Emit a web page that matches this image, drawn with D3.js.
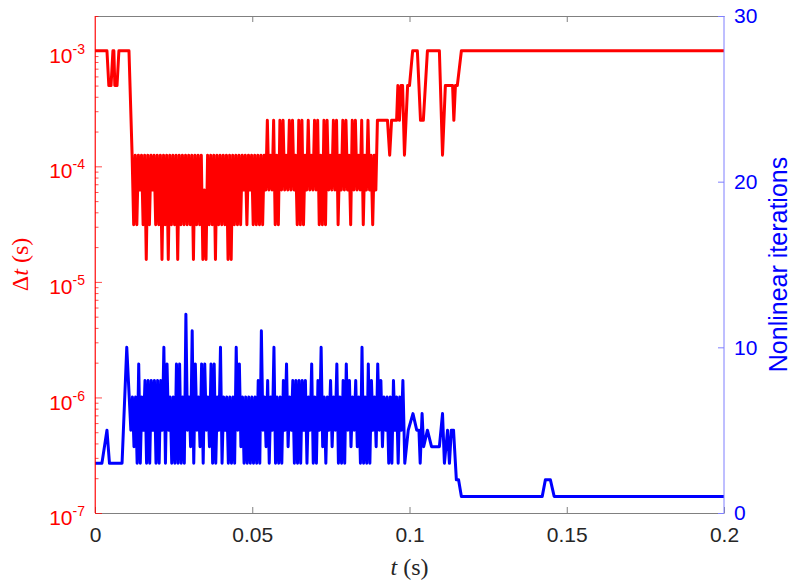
<!DOCTYPE html>
<html>
<head>
<meta charset="utf-8">
<script src="https://cdn.jsdelivr.net/npm/d3@7"></script>
<style>
body { margin: 0; background: #fff; }
svg text { font-family: "Liberation Sans", Arial, Helvetica, sans-serif; }
</style>
</head>
<body>
<svg width="800" height="588"></svg>
<script>
// time step sizes used by the solver (index into this list)
var dtLevels = [1e-3, 5e-4, 2.5e-4, 1.25e-4, 6.25e-5, 3.125e-5, 1.5625e-5];

// [t (s), dt level index]
var dtSteps = [
  [0,0],[0.0038,0],[0.0044,1],[0.0051,1],[0.0057,0],[0.0060,0],[0.0063,1],[0.0070,1],[0.0076,0],[0.0108,0],
  [0.0118,3],[0.0123,5],[0.0128,3],[0.0133,5],[0.0138,3],[0.0143,4],[0.0148,3],[0.0153,5],[0.0158,3],[0.0163,6],
  [0.0168,3],[0.0173,5],[0.0178,3],[0.0183,4],[0.0188,3],[0.0193,5],[0.0198,3],[0.0203,5],[0.0208,3],[0.0213,6],
  [0.0218,3],[0.0223,5],[0.0228,3],[0.0233,6],[0.0238,3],[0.0243,5],[0.0248,3],[0.0253,5],[0.0258,3],[0.0263,6],
  [0.0268,3],[0.0273,5],[0.0278,3],[0.0283,5],[0.0288,3],[0.0293,5],[0.0298,3],[0.0303,5],[0.0308,3],[0.0313,6],
  [0.0318,3],[0.0323,5],[0.0328,3],[0.0333,5],[0.0338,3],[0.0343,6],[0.0348,4],[0.0353,6],[0.0358,3],[0.0363,5],
  [0.0368,3],[0.0373,5],[0.0378,3],[0.0383,6],[0.0388,3],[0.0393,5],[0.0398,3],[0.0403,5],[0.0408,3],[0.0413,5],
  [0.0418,3],[0.0423,6],[0.0428,3],[0.0433,6],[0.0438,3],[0.0443,5],[0.0448,3],[0.0453,5],[0.0458,3],[0.0463,5],
  [0.0468,3],[0.0473,4],[0.0478,3],[0.0483,5],[0.0488,3],[0.0493,4],[0.0498,3],[0.0503,5],[0.0508,3],[0.0513,5],
  [0.0518,3],[0.0523,5],[0.0528,3],[0.0533,5],[0.0538,3],[0.0543,4],[0.0548,2],[0.0553,4],[0.0558,3],[0.0563,4],
  [0.0568,2],[0.0573,5],[0.0578,3],[0.0583,5],[0.0588,2],[0.0593,4],[0.0598,2],[0.0603,4],[0.0608,3],[0.0613,4],
  [0.0618,2],[0.0623,4],[0.0628,2],[0.0633,4],[0.0638,3],[0.0643,5],[0.0648,2],[0.0653,5],[0.0658,2],[0.0663,5],
  [0.0668,3],[0.0673,4],[0.0678,2],[0.0683,4],[0.0688,3],[0.0693,4],[0.0698,2],[0.0703,4],[0.0708,2],[0.0713,5],
  [0.0718,3],[0.0723,5],[0.0728,2],[0.0733,5],[0.0738,2],[0.0743,4],[0.0748,3],[0.0753,4],[0.0758,2],[0.0763,4],
  [0.0768,2],[0.0773,5],[0.0778,3],[0.0783,4],[0.0788,2],[0.0793,4],[0.0798,2],[0.0803,4],[0.0808,3],[0.0813,5],
  [0.0818,2],[0.0823,4],[0.0828,2],[0.0833,4],[0.0838,3],[0.0843,4],[0.0848,2],[0.0853,5],[0.0858,3],[0.0863,4],
  [0.0868,2],[0.0873,4],[0.0878,3],[0.0883,5],[0.0888,3],[0.0893,4],
  [0.0898,2],[0.0930,2],[0.0937,3],[0.0943,2],[0.0959,2],[0.0963,1],[0.0968,2],[0.0973,1],[0.0978,1],[0.0984,3],
  [0.0994,1],[0.1000,1],[0.1010,0],[0.1025,0],[0.1035,2],[0.1044,2],[0.1057,0],[0.1095,0],[0.1105,3],[0.1114,1],
  [0.1137,1],[0.1141,2],[0.1146,1],[0.1152,1],[0.1165,0],[0.2,0]
];

// [t (s), nonlinear iterations]
var iterSteps = [
  [0,3],[0.0022,3],[0.0038,5],[0.0046,3],[0.0086,3],[0.0101,10],
  [0.0114,5],[0.0119,7],[0.0124,4],[0.0129,7],[0.0134,3],[0.0139,9],[0.0144,3],[0.0149,7],[0.0154,5],[0.0159,8],
  [0.0164,3],[0.0169,8],[0.0174,3],[0.0179,8],[0.0184,5],[0.0189,8],[0.0194,3],[0.0199,8],[0.0204,3],[0.0209,8],
  [0.0214,5],[0.0219,10],[0.0224,3],[0.0229,9],[0.0234,5],[0.0239,7],[0.0244,3],[0.0249,7],[0.0254,3],[0.0259,9],
  [0.0264,3],[0.0269,9],[0.0274,3],[0.0279,7],[0.0284,3],[0.0289,12],[0.0294,5],[0.0299,7],[0.0304,4],[0.0309,11],
  [0.0314,3],[0.0319,9],[0.0324,5],[0.0329,7],[0.0334,4],[0.0339,9],[0.0344,3],[0.0349,9],[0.0354,5],[0.0359,7],
  [0.0364,4],[0.0369,9],[0.0374,3],[0.0379,9],[0.0384,3],[0.0389,7],[0.0394,5],[0.0399,10],[0.0404,3],[0.0409,7],
  [0.0414,5],[0.0419,7],[0.0424,3],[0.0429,7],[0.0434,3],[0.0439,7],[0.0444,3],[0.0449,10],[0.0454,5],[0.0459,9],
  [0.0464,4],[0.0469,7],[0.0474,3],[0.0479,7],[0.0484,3],[0.0489,7],[0.0494,3],[0.0499,7],[0.0504,3],[0.0509,7],
  [0.0514,3],[0.0519,8],[0.0524,3],[0.0529,11],[0.0534,5],[0.0539,7],[0.0544,4],[0.0549,8],[0.0554,3],[0.0559,7],
  [0.0564,5],[0.0569,10],[0.0574,3],[0.0579,7],[0.0584,3],[0.0589,7],[0.0594,3],[0.0599,8],[0.0604,5],[0.0609,9],
  [0.0614,4],[0.0619,7],[0.0624,5],[0.0629,8],[0.0634,3],[0.0639,8],[0.0644,3],[0.0649,8],[0.0654,3],[0.0659,8],
  [0.0664,5],[0.0669,8],[0.0674,3],[0.0679,7],[0.0684,5],[0.0689,9],[0.0694,3],[0.0699,7],[0.0704,3],[0.0709,8],
  [0.0714,5],[0.0719,10],[0.0724,4],[0.0729,7],[0.0734,3],[0.0739,7],[0.0744,5],[0.0749,8],[0.0754,4],[0.0759,7],
  [0.0764,5],[0.0769,9],[0.0774,3],[0.0779,7],[0.0784,3],[0.0789,8],[0.0794,3],[0.0799,9],[0.0804,5],[0.0809,8],
  [0.0814,4],[0.0819,7],[0.0824,5],[0.0829,8],[0.0834,4],[0.0839,7],[0.0844,3],[0.0849,10],[0.0854,3],[0.0859,7],
  [0.0864,3],[0.0869,9],[0.0874,3],[0.0879,8],[0.0884,5],[0.0889,7],[0.0894,4],[0.0899,9],[0.0904,5],[0.0909,8],
  [0.0914,4],[0.0919,7],[0.0924,5],[0.0929,7],[0.0934,3],[0.0939,7],[0.0944,3],[0.0949,8],[0.0954,5],[0.0959,7],
  [0.0964,3],[0.0969,7],[0.0974,5],[0.0979,8],
  [0.0985,3],[0.0996,5],[0.1011,6],[0.1023,5],[0.1030,5],[0.1034,3],[0.1040,6],[0.1045,4],[0.1057,5],
  [0.1070,4],[0.1095,4],[0.1105,6],[0.1111,3],[0.1121,5],[0.1127,3],[0.1133,5],[0.1140,5],[0.1149,2],[0.1156,2],
  [0.1165,1],[0.1422,1],[0.1432,2],[0.1448,2],[0.1460,1],[0.2,1]
];

var xTicks = [0, 0.05, 0.1, 0.15, 0.2];
var dtTicks = [1e-7, 1e-6, 1e-5, 1e-4, 1e-3];
var iterTicks = [0, 10, 20, 30];

var svg = d3.select("svg");
var plotLeft = 95, plotRight = 724, plotTop = 16, plotBottom = 513;

var x = d3.scaleLinear().domain([0, 0.2]).range([plotLeft, plotRight]);
var yDt = d3.scaleLog().domain([1e-7, 2e-3]).range([plotBottom, plotTop]);
var yIt = d3.scaleLinear().domain([0, 30]).range([plotBottom, plotTop]);

svg.append("clipPath").attr("id", "plotclip")
  .append("rect")
  .attr("x", plotLeft).attr("y", plotTop)
  .attr("width", plotRight - plotLeft).attr("height", plotBottom - plotTop);

var dtLine = d3.line()
  .x(function(d) { return x(d[0]); })
  .y(function(d) { return yDt(dtLevels[d[1]]); });

var itLine = d3.line()
  .x(function(d) { return x(d[0]); })
  .y(function(d) { return yIt(d[1]); });

var plot = svg.append("g").attr("clip-path", "url(#plotclip)");

plot.append("path")
  .datum(dtSteps)
  .attr("d", dtLine)
  .attr("fill", "none")
  .attr("stroke", "#ff0000")
  .attr("stroke-width", 3)
  .attr("stroke-linejoin", "round");

plot.append("path")
  .datum(iterSteps)
  .attr("d", itLine)
  .attr("fill", "none")
  .attr("stroke", "#0000ff")
  .attr("stroke-width", 3)
  .attr("stroke-linejoin", "round");

// top border with inward ticks
var topAxis = svg.append("g")
  .attr("transform", "translate(0," + plotTop + ")")
  .call(d3.axisTop(x).tickValues(xTicks.slice(1, -1)).tickSizeInner(-6).tickSizeOuter(0).tickFormat(""));
topAxis.selectAll("path, line").attr("stroke", "#808080");

// bottom axis
var bottomAxis = svg.append("g")
  .attr("transform", "translate(0," + plotBottom + ")")
  .call(d3.axisBottom(x).tickValues(xTicks).tickSizeInner(-6).tickSizeOuter(0).tickPadding(14)
    .tickFormat(function(d) { return d; }));
bottomAxis.selectAll("path, line").attr("stroke", "#808080");
bottomAxis.selectAll("text").attr("fill", "#262626").attr("font-size", 21)
  .attr("font-family", "Liberation Sans, Arial, sans-serif");

// left (log) axis, minor ticks first
var minorDt = yDt.ticks().filter(function(d) {
  var e = Math.log10(d);
  return Math.abs(e - Math.round(e)) > 1e-6;
});
var leftMinor = svg.append("g")
  .attr("transform", "translate(" + plotLeft + ",0)")
  .call(d3.axisLeft(yDt).tickValues(minorDt).tickSizeInner(-3.5).tickSizeOuter(0).tickFormat(""));
leftMinor.selectAll("path, line").attr("stroke", "#ff0000").attr("stroke-opacity", 0.7);

var leftAxis = svg.append("g")
  .attr("transform", "translate(" + plotLeft + ",0)")
  .call(d3.axisLeft(yDt).tickValues(dtTicks).tickSizeInner(-7).tickSizeOuter(0).tickPadding(10));
leftAxis.selectAll("path, line").attr("stroke", "#ff0000").attr("stroke-opacity", 0.7);
leftAxis.selectAll(".domain").attr("d", "M0," + plotTop + "V" + plotBottom);
leftAxis.selectAll(".tick text")
  .attr("fill", "#ff0000")
  .attr("font-size", 21)
  .attr("font-family", "Liberation Sans, Arial, sans-serif")
  .attr("dy", "0.55em")
  .text(null)
  .each(function(d) {
    var t = d3.select(this);
    t.append("tspan").text("10");
    t.append("tspan").attr("dy", -9).attr("font-size", 14).text(String(Math.round(Math.log10(d))));
  });

// right axis
var rightAxis = svg.append("g")
  .attr("transform", "translate(" + plotRight + ",0)")
  .call(d3.axisRight(yIt).tickValues(iterTicks).tickSizeInner(-6).tickSizeOuter(0).tickPadding(10));
rightAxis.selectAll("path, line").attr("stroke", "#7f7fff");
rightAxis.selectAll(".domain").attr("d", "M0," + plotTop + "V" + plotBottom);
rightAxis.selectAll("text").attr("fill", "#0000ff").attr("font-size", 21)
  .attr("font-family", "Liberation Sans, Arial, sans-serif");

// axis titles
var midY = (plotTop + plotBottom) / 2;

var xTitle = svg.append("text")
  .attr("x", (plotLeft + plotRight) / 2)
  .attr("y", 575)
  .attr("text-anchor", "middle")
  .attr("fill", "#262626")
  .attr("font-size", 24)
  .style("font-family", "'Liberation Serif', 'DejaVu Serif', serif");
xTitle.append("tspan").attr("font-style", "italic").text("t");
xTitle.append("tspan").text(" (s)");

var yTitle = svg.append("text")
  .attr("transform", "translate(28," + midY + ") rotate(-90)")
  .attr("text-anchor", "middle")
  .attr("fill", "#ff0000")
  .attr("font-size", 24)
  .style("font-family", "'Liberation Serif', 'DejaVu Serif', serif");
yTitle.append("tspan").text("\u0394");
yTitle.append("tspan").attr("font-style", "italic").text("t");
yTitle.append("tspan").text(" (s)");

svg.append("text")
  .attr("transform", "translate(787," + midY + ") rotate(-90)")
  .attr("text-anchor", "middle")
  .attr("fill", "#0000ff")
  .attr("font-size", 25)
  .text("Nonlinear iterations");
</script>
</body>
</html>
